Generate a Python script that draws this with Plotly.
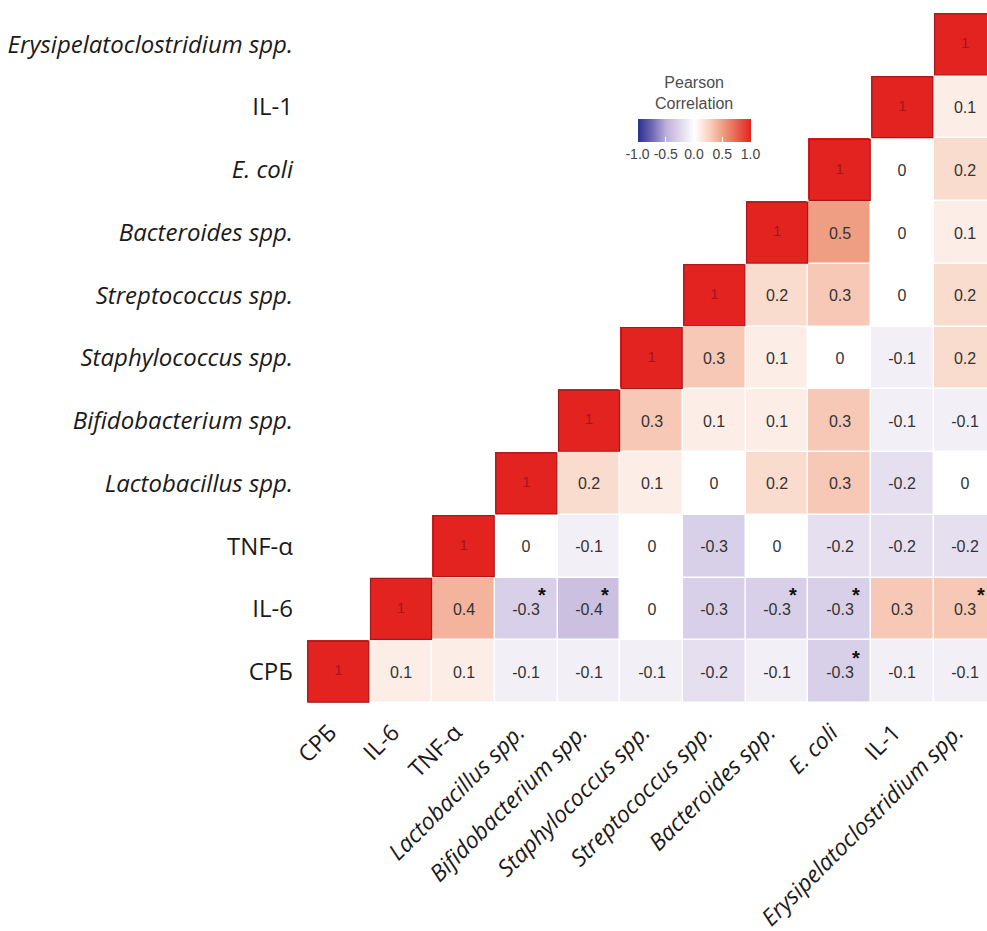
import plotly.graph_objects as go

# ---- data ----
variables = ["СРБ", "IL-6", "TNF-α", "Lactobacillus spp.", "Bifidobacterium spp.",
             "Staphylococcus spp.", "Streptococcus spp.", "Bacteroides spp.",
             "E. coli", "IL-1", "Erysipelatoclostridium spp."]
italic = [False, False, False, True, True, True, True, True, True, False, True]

# columns of the upper triangle: values for rows 0..column index (bottom row first)
corr_cols = [
    [1],
    [0.1, 1],
    [0.1, 0.4, 1],
    [-0.1, -0.3, 0, 1],
    [-0.1, -0.4, -0.1, 0.2, 1],
    [-0.1, 0, 0, 0.1, 0.3, 1],
    [-0.2, -0.3, -0.3, 0, 0.1, 0.3, 1],
    [-0.1, -0.3, 0, 0.2, 0.1, 0.1, 0.2, 1],
    [-0.3, -0.3, -0.2, 0.3, 0.3, 0, 0.3, 0.5, 1],
    [-0.1, 0.3, -0.2, -0.2, -0.1, -0.1, 0, 0, 0, 1],
    [-0.1, 0.3, -0.2, 0, -0.1, 0.2, 0.2, 0.1, 0.2, 0.1, 1],
]
# significant pairs (row variable, column variable)
significant = [("IL-6", "Lactobacillus spp."), ("IL-6", "Bifidobacterium spp."),
               ("IL-6", "Bacteroides spp."), ("IL-6", "E. coli"),
               ("IL-6", "Erysipelatoclostridium spp."), ("СРБ", "E. coli")]

colorbar_ticks = [-1.0, -0.5, 0.0, 0.5, 1.0]
colorbar_labels = ["-1.0", "-0.5", "0.0", "0.5", "1.0"]

n = len(variables)
z = [[None] * n for _ in range(n)]
txt = [[""] * n for _ in range(n)]
for c in range(n):
    for r, v in enumerate(corr_cols[c]):
        z[r][c] = v
        txt[r][c] = "" if r == c else ("0" if v == 0 else f"{v:g}")

colorscale = [
    [0.0, "#2B2F8F"],
    [0.125, "#6F68B2"],
    [0.25, "#BDB0D8"],
    [0.375, "#DFD7EC"],
    [0.5, "#FFFFFF"],
    [0.625, "#F9D3C2"],
    [0.75, "#EF9E83"],
    [1.0, "#E3231F"],
]

NB = "\u00a0\u00a0"

def fmt(name, it):
    return f"<i>{name}</i>" if it else name

yticktext = [fmt(v, i) for v, i in zip(variables, italic)]
xticktext = [fmt(v, i) + NB for v, i in zip(variables, italic)]
LABEL_FONT = "Open Sans"

W, H = 987, 931
ML, MR, MT, MB = 307, 0, 13, 228
PW, PH = W - ML - MR, H - MT - MB

fig = go.Figure()
fig.add_trace(go.Heatmap(
    x=variables, y=variables, z=z, text=txt, texttemplate="%{text}",
    textfont=dict(family="Liberation Sans, Arial", size=16, color="#333333"),
    colorscale=colorscale, zmin=-1, zmax=1, xgap=1.5, ygap=1.5,
    hoverongaps=False,
    colorbar=dict(
        orientation="h",
        x=(694 - ML) / PW, xanchor="center", y=(MT + PH - 119) / PH, yanchor="top",
        len=113, lenmode="pixels", thickness=23, outlinewidth=0, xpad=0, ypad=0,
        tickvals=colorbar_ticks, ticktext=colorbar_labels, tickangle=0,
        ticks="inside", ticklen=5, tickcolor="white", tickwidth=1,
        tickfont=dict(family="Liberation Sans, Arial", size=14, color="#444444"),
    ),
))

# diagonal cells
fig.add_trace(go.Scatter(
    x=variables, y=variables, mode="markers+text", text=["1"] * n,
    textposition="middle center",
    textfont=dict(family="Liberation Sans, Arial", size=15, color="#A3161A"),
    marker=dict(symbol="square", size=61, color="#E3231F",
                line=dict(color="#A8181A", width=1.2)),
    hoverinfo="skip", showlegend=False,
))

for rv, cv in significant:
    fig.add_annotation(x=cv, y=rv, text="<b>*</b>", showarrow=False,
                       xshift=16, yshift=14,
                       font=dict(family="Liberation Sans, Arial", size=20, color="#111111"))

fig.add_annotation(xref="paper", yref="paper", x=(694 - ML) / PW, y=(MT + PH - 114) / PH,
                   xanchor="center", yanchor="bottom", showarrow=False,
                   text="Pearson<br>Correlation", align="center",
                   font=dict(family="Liberation Sans, Arial", size=16, color="#4d4d4d"))

fig.update_layout(
    width=W, height=H,
    margin=dict(l=ML, r=MR, t=MT, b=MB, autoexpand=False),
    plot_bgcolor="white", paper_bgcolor="white",
    showlegend=False,
)
fig.update_xaxes(
    type="category", range=[-0.5, 10.35], tickvals=variables, ticktext=xticktext,
    tickangle=-45, showgrid=False, zeroline=False, showline=False, ticks="",
    ticklabelstandoff=2,
    tickfont=dict(family=LABEL_FONT, size=23, color="#1a1a1a"),
)
fig.update_yaxes(
    type="category", range=[-0.5, 10.5], tickvals=variables, ticktext=yticktext,
    showgrid=False, zeroline=False, showline=False, ticks="",
    ticklabelstandoff=13,
    tickfont=dict(family=LABEL_FONT, size=24, color="#1a1a1a"),
)

fig.write_html("out.html", config={"displayModeBar": False},
               post_script="document.body.style.margin='0';document.body.style.overflow='hidden';")
